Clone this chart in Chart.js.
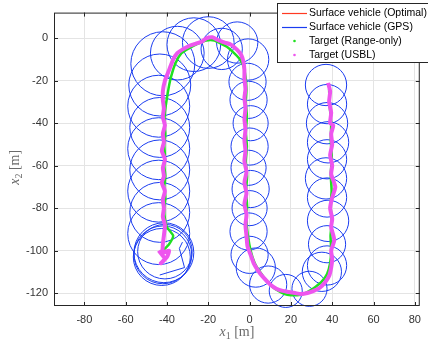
<!DOCTYPE html>
<html>
<head>
<meta charset="utf-8">
<script src="https://cdn.jsdelivr.net/npm/chart.js@4.4.1/dist/chart.umd.min.js"></script>
<style>
html, body { margin: 0; padding: 0; background: #fff; }
canvas { display: block; }
</style>
</head>
<body>
<canvas id="plot" width="428" height="344"></canvas>
<script>
// axis ticks
const xTicks = [-80, -60, -40, -20, 0, 20, 40, 60, 80];
const yTicks = [-120, -100, -80, -60, -40, -20, 0];

// vehicle (GPS) orbits around the target: centre and radius in metres
const orbitX = [-42, -41, -42.5, -41.5,
    -44, -43.5, -44, -43.5, -44, -43.5, -44, -43.5,
    -42, -35, -27, -20, -13.5, -6, -0.7, -1,
    -0.5, 0.5, 0, -0.5, 0.5, 0, -0.5, 0,
    3, 9, 17.5, 29, 35,
    37.5, 37.5, 38, 37.5, 37, 37.5, 38, 37.5, 37.5, 37];
const orbitY = [-102, -100.5, -103, -101,
    -92, -82, -72, -62, -52, -42, -32, -22,
    -12, -7, -3, -2, -5, -2, -10, -20.5,
    -29, -40, -51, -61, -71, -80, -91, -102,
    -108, -116, -119, -118, -110,
    -107, -97, -86, -75, -66, -57, -49, -40, -31, -22];
const orbitR = [14, 13.2, 13.8, 14.5,
    15, 14.5, 15, 14.5, 15, 14.5, 15, 15,
    15.5, 13, 13, 12.5, 10, 10, 10, 9,
    9, 8.5, 9, 8.5, 9, 8.5, 9, 9,
    9.5, 9, 8, 8.5, 9.5,
    9.5, 9, 10, 9.5, 10, 9.5, 10, 10, 9.5, 10];

// vehicle approach before the first orbit
const startX = [-32.5, -34, -31.5, -43.5];
const startY = [-96, -99, -108, -111.5];

// target (USBL)
const usblX = [-44, -41, -43, -40, -39, -42, -42, -41.5, -41, -42, -41.5, -42, -41, -42.5, -41.5, -42, -41, -42.5, -41.5,
    -42, -41, -42, -41.5, -42, -42, -41, -39, -37, -35, -32, -29, -26, -23, -21, -18, -15, -12, -9, -6, -4, -3,
    -2.5, -2.5, -2, -2.5, -2, -2.5, -2, -2.5, -2, -2.5, -1.5, -2.5, -1.5, -2.5, -1.5, -2, -1.5, -1, 0.5, 2, 4.5, 7,
    10, 13, 16, 19, 22, 25, 28, 31, 34, 36.5, 38.5, 39.5, 40, 39.5, 41, 39.5, 40, 39, 40, 41.5, 39.5, 40, 39, 40,
    39.5, 40.5, 39, 39.5, 38.5, 39, 38];
const usblY = [-100, -104, -106, -103, -100, -101, -97, -93, -88, -84, -80, -76, -72, -68, -65, -61, -57, -53, -49,
    -45, -41, -37, -33, -29, -25, -20, -15, -10, -7, -5, -3.5, -2.5, -1.5, 0, 0.5, -1, -2, -3, -5.5, -8, -11, -15,
    -19, -24, -28, -33, -38, -43, -48, -53, -58, -63, -68, -73, -78, -83, -88, -93, -98, -102, -106, -110, -113, -116,
    -118, -119, -119.5, -120, -120.5, -120, -119, -117.5, -115, -112, -108, -104, -100, -95, -89, -85, -80, -75, -70,
    -64, -60, -55, -50, -45, -41, -40, -35, -30, -25, -21];

// target (range-only)
const rangeX = [-42, -39, -37, -40, -41, -41.3, -40.8, -41.3, -40.8, -41.3, -41, -41.3, -40.8, -41.2, -41, -40, -38.5,
    -36, -33, -29, -25, -21, -17, -14, -11, -8, -5, -3, -2, -1.5, -1.8, -1.3, -1.8, -1.3, -1.8, -1.2, -1.7, -1.2,
    -1.5, -0.8, 0.5, 2.5, 5, 8, 11, 14, 17, 20, 23, 26, 29, 32, 35, 37.5, 39, 39.5, 39.2, 39.8, 39.2, 39.7, 39.3,
    39.8, 39.3, 39.5, 38.8, 38.5];
const rangeY = [-100, -97, -93, -89, -85, -80, -75, -70, -65, -60, -55, -50, -45, -40, -35, -28, -20, -12, -7, -4.5,
    -2.5, -1, -1, -2.5, -4, -6.5, -9.5, -13, -18, -24, -30, -37, -44, -51, -58, -65, -72, -79, -86, -93, -100, -106,
    -110, -114, -117, -119, -120.5, -121, -121, -120.5, -119, -117, -114.5, -111, -106, -100, -93, -86, -79, -72,
    -64, -56, -48, -40, -32, -24];

const legendLabels = ['Surface vehicle (Optimal)', 'Surface vehicle (GPS)', 'Target (Range-only)', 'Target (USBL)'];
const legendColors = ['#ff3a22', '#1a3cf0', '#20e020', '#ee55ee'];
const legendKinds = ['line', 'line', 'dot', 'dot'];

const toPoints = (xs, ys) => xs.map((x, i) => ({ x: x, y: ys[i] }));

const orbitPoints = orbitX.map((x, i) => ({ x: x, y: orbitY[i], rm: orbitR[i] }));

// metres -> pixels through the x scale
function orbitRadius(c) {
    const s = c.chart.scales && c.chart.scales.x;
    const raw = c.raw || orbitPoints[c.dataIndex];
    if (!raw || !s) return 1;
    const px = Math.abs(s.getPixelForValue(raw.rm) - s.getPixelForValue(0));
    return isFinite(px) && px > 0 ? px : 1;
}

function mathLabel(ctx, sub, cx, baseline) {
    const parts = [
        ['x', 'italic 14px "Liberation Serif"', 0],
        [sub, '10px "Liberation Serif"', 3],
        [' [m]', '14px "Liberation Serif"', 0],
    ];
    let w = 0;
    parts.forEach(p => { ctx.font = p[1]; w += ctx.measureText(p[0]).width; });
    let x = cx - w / 2;
    parts.forEach(p => {
        ctx.font = p[1];
        ctx.fillText(p[0], x, baseline + p[2]);
        x += ctx.measureText(p[0]).width;
    });
}

const decorations = {
    id: 'decorations',
    afterDraw(chart) {
        const { ctx, chartArea: a, scales: { x, y } } = chart;
        ctx.save();

        // box and inward ticks
        ctx.strokeStyle = '#262626';
        ctx.lineWidth = 1;
        ctx.strokeRect(a.left + 0.5, a.top + 0.5, a.right - a.left - 1, a.bottom - a.top - 1);
        ctx.beginPath();
        xTicks.forEach(v => {
            const px = Math.round(x.getPixelForValue(v)) + 0.5;
            ctx.moveTo(px, a.bottom); ctx.lineTo(px, a.bottom - 4);
            ctx.moveTo(px, a.top); ctx.lineTo(px, a.top + 4);
        });
        yTicks.forEach(v => {
            const py = Math.round(y.getPixelForValue(v)) + 0.5;
            ctx.moveTo(a.left, py); ctx.lineTo(a.left + 4, py);
            ctx.moveTo(a.right, py); ctx.lineTo(a.right - 4, py);
        });
        ctx.stroke();

        // axis titles
        ctx.fillStyle = '#6a6a6a';
        ctx.textBaseline = 'alphabetic';
        mathLabel(ctx, '1', (a.left + a.right) / 2, 336);
        ctx.save();
        ctx.translate(19, (a.top + a.bottom) / 2 + 8);
        ctx.rotate(-Math.PI / 2);
        mathLabel(ctx, '2', 0, 0);
        ctx.restore();

        // legend
        const bx = 277.5, by = 3.5, bw = 152, bh = 59;
        ctx.fillStyle = '#fff';
        ctx.fillRect(bx, by, bw, bh);
        ctx.strokeStyle = '#262626';
        ctx.lineWidth = 1;
        ctx.strokeRect(bx, by, bw, bh);
        ctx.font = '10.5px "Liberation Sans", Arial, sans-serif';
        ctx.textBaseline = 'middle';
        legendLabels.forEach((label, i) => {
            const ly = 13 + i * 14;
            if (legendKinds[i] === 'line') {
                ctx.strokeStyle = legendColors[i];
                ctx.lineWidth = 1.2;
                ctx.beginPath();
                ctx.moveTo(282, ly + 0.5);
                ctx.lineTo(307, ly + 0.5);
                ctx.stroke();
            } else {
                ctx.fillStyle = legendColors[i];
                ctx.beginPath();
                ctx.arc(294.5, ly, 1.3, 0, Math.PI * 2);
                ctx.fill();
            }
            ctx.fillStyle = '#000';
            ctx.fillText(label, 309, ly);
        });
        ctx.restore();
    }
};

const chart = new Chart(document.getElementById('plot'), {
    type: 'scatter',
    data: {
        datasets: [
            {
                label: legendLabels[3],
                type: 'line',
                data: toPoints(usblX, usblY),
                borderColor: legendColors[3],
                borderWidth: 4,
                pointRadius: 0,
                tension: 0.2,
                order: 0,
            },
            {
                label: legendLabels[2],
                type: 'line',
                data: toPoints(rangeX, rangeY),
                borderColor: legendColors[2],
                borderWidth: 2.5,
                pointRadius: 0,
                tension: 0.2,
                order: 1,
            },
            {
                label: legendLabels[1],
                type: 'scatter',
                data: orbitPoints,
                showLine: false,
                pointStyle: 'circle',
                pointBorderColor: legendColors[1],
                pointBackgroundColor: 'rgba(0,0,0,0)',
                pointBorderWidth: 1,
                pointRadius: orbitRadius,
                clip: false,
                order: 2,
            },
            {
                label: legendLabels[1] + ' start',
                type: 'line',
                data: toPoints(startX, startY),
                borderColor: legendColors[1],
                borderWidth: 1,
                pointRadius: 0,
                order: 3,
            },
        ]
    },
    options: {
        responsive: false,
        devicePixelRatio: 1,
        animation: false,
        events: [],
        layout: { padding: { top: 12, right: 1, left: 0, bottom: 0 } },
        plugins: {
            legend: { display: false },
            tooltip: { enabled: false },
        },
        scales: {
            x: {
                type: 'linear',
                min: -94.7,
                max: 82.4,
                afterBuildTicks: axis => { axis.ticks = xTicks.map(v => ({ value: v })); },
                afterFit: axis => { axis.height = 38; },
                grid: { color: '#e4e4e4', drawTicks: false },
                border: { display: false },
                ticks: {
                    padding: 7,
                    color: '#333',
                    font: { family: '"Liberation Sans", Arial, sans-serif', size: 11 },
                },
            },
            y: {
                type: 'linear',
                min: -126.1,
                max: 12.1,
                afterBuildTicks: axis => { axis.ticks = yTicks.map(v => ({ value: v })); },
                afterFit: axis => { axis.width = 54; },
                grid: { color: '#e4e4e4', drawTicks: false },
                border: { display: false },
                ticks: {
                    padding: 6,
                    color: '#333',
                    font: { family: '"Liberation Sans", Arial, sans-serif', size: 11 },
                },
            },
        },
    },
    plugins: [decorations],
});
</script>
</body>
</html>
